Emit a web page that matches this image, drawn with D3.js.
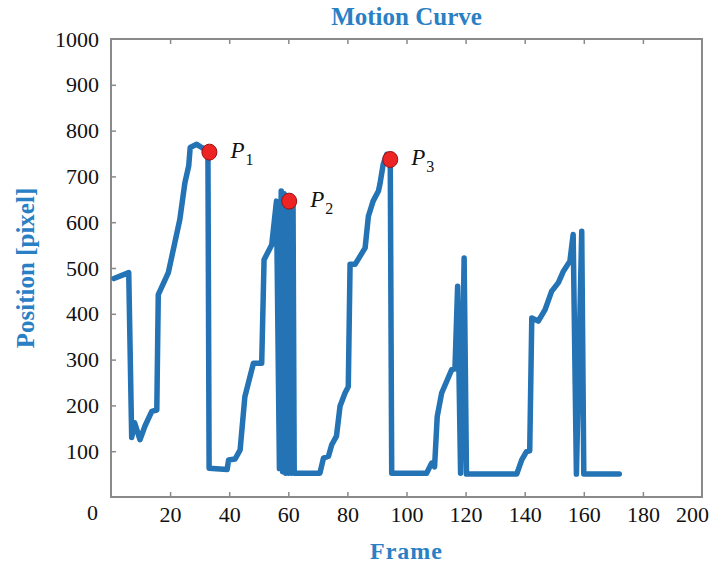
<!DOCTYPE html>
<html>
<head>
<meta charset="utf-8">
<script src="https://cdn.jsdelivr.net/npm/d3@7"></script>
<style>
  body { margin: 0; background: #fff; }
  svg text { font-family: "Liberation Serif", "Times New Roman", serif; }
</style>
</head>
<body>
<script>
// frame number and tracked position
var frames = [1, 6, 7, 8, 9.8, 11.5, 13.8, 15.5, 16, 19.4, 23.3, 25, 26.3, 26.8, 29, 30.7, 32.8, 33.2,
  39.3, 39.8, 42, 43.7, 45.3, 48.2, 51, 51.8, 54.4, 56,
  57, 57.6, 58.1, 58.6, 59.1, 59.6, 60.1, 60.6, 61.1, 61.6, 62,
  70.7, 71.9, 73.6, 74.7, 76.3, 77.5, 79.2, 80.3, 80.9, 82.6, 84.3, 86, 87.1, 88.7, 90.5, 91, 92.1, 93.3, 94.5, 95,
  106.8, 108.5, 109.5, 110.4, 111.9, 115.3, 116.4, 117.3, 118.3, 119.5, 120.3,
  137.3, 139, 140.6, 141.7, 142.4, 144.6, 146.9, 149.1, 151.4, 153.1, 155.3, 156.4, 157.5, 159.3, 160, 172];
var positions = [477, 490, 130, 162, 125, 155, 187, 190, 442, 490, 606, 686, 723, 763, 770, 763, 758, 63,
  60, 81, 83, 103, 219, 292, 292, 518, 551, 646,
  62, 668, 55, 662, 52, 655, 52, 650, 52, 645, 52,
  52, 85, 89, 114, 133, 198, 227, 241, 508, 508, 526, 544, 613, 646, 668, 683, 726, 748, 740, 52,
  52, 74, 66, 176, 227, 278, 280, 460, 52, 522, 50,
  50, 81, 99, 101, 391, 384, 409, 449, 468, 493, 515, 573, 50, 580, 50, 50];

var markerNames = ["1", "2", "3"];
var markerFrames = [33.3, 60.3, 94.5];
var markerValues = [753, 646, 737];

var xTicks = [20, 40, 60, 80, 100, 120, 140, 160, 180, 200];
var yTicks = [100, 200, 300, 400, 500, 600, 700, 800, 900, 1000];

var titleText = "Motion Curve",
    xLabel = "Frame",
    yLabel = "Position [pixel]";

(function() {
var W = 713, H = 568;
var mLeft = 111, mRight = 702, mTop = 39, mBottom = 497;

var blue = "#2373b5", labelBlue = "#2a80c4", frameGrey = "#8a8a8a";

var x = d3.scaleLinear().domain([0, 200]).range([mLeft, mRight]);
var y = d3.scaleLinear().domain([0, 1000]).range([mBottom, mTop]);

var svg = d3.select("body").append("svg")
    .attr("width", W)
    .attr("height", H);

// box
svg.append("rect")
    .attr("x", mLeft).attr("y", mTop)
    .attr("width", mRight - mLeft).attr("height", mBottom - mTop)
    .attr("fill", "none")
    .attr("stroke", frameGrey)
    .attr("stroke-width", 2);

// axes, ticks pointing inward
var xAxis = svg.append("g")
    .attr("transform", "translate(0," + mBottom + ")")
    .call(d3.axisBottom(x).tickValues(xTicks).tickSize(-5).tickPadding(12).tickFormat(d3.format("d")));
var xTop = svg.append("g")
    .attr("transform", "translate(0," + mTop + ")")
    .call(d3.axisTop(x).tickValues(xTicks.slice(0, -1)).tickSize(-5).tickFormat(""));
var yAxis = svg.append("g")
    .attr("transform", "translate(" + mLeft + ",0)")
    .call(d3.axisLeft(y).tickValues(yTicks).tickSize(-5).tickPadding(12).tickFormat(d3.format("d")));

[xAxis, xTop, yAxis].forEach(function(g) {
  g.select(".domain").remove();
  g.selectAll(".tick line").attr("stroke", frameGrey).attr("stroke-width", 1.5);
  g.selectAll(".tick text")
      .attr("fill", "#111")
      .style("font-family", "'Liberation Serif', serif")
      .style("font-size", "22px");
});
xAxis.selectAll(".tick line").filter(function(d) { return d === 200; }).remove();
yAxis.selectAll(".tick line").filter(function(d) { return d === 1000; }).remove();
xAxis.selectAll(".tick text").attr("y", 9);
xAxis.selectAll(".tick text").filter(function(d) { return d === 200; }).attr("dx", -10);

// the lone zero sits under the corner
svg.append("text")
    .attr("x", mLeft - 13)
    .attr("y", y(0) + 23)
    .attr("text-anchor", "end")
    .attr("fill", "#111")
    .style("font-size", "22px")
    .text("0");

// curve
var pts = frames.map(function(f, i) { return [f, positions[i]]; });
var line = d3.line()
    .x(function(d) { return x(d[0]); })
    .y(function(d) { return y(d[1]); });

svg.append("path")
    .datum(pts)
    .attr("d", line)
    .attr("fill", "none")
    .attr("stroke", blue)
    .attr("stroke-width", 5.5)
    .attr("stroke-linejoin", "round")
    .attr("stroke-linecap", "round");

// marked peaks
var marks = svg.selectAll(".mark")
    .data(markerNames)
  .enter().append("g")
    .attr("class", "mark");

marks.append("ellipse")
    .attr("cx", function(d, i) { return x(markerFrames[i]); })
    .attr("cy", function(d, i) { return y(markerValues[i]); })
    .attr("rx", 7.5)
    .attr("ry", 8)
    .attr("fill", "#ec2424")
    .attr("stroke", "#9a1010")
    .attr("stroke-width", 1);

var lab = marks.append("text")
    .attr("x", function(d, i) { return x(markerFrames[i]) + 21; })
    .attr("y", function(d, i) { return y(markerValues[i]) + 6; })
    .attr("fill", "#111")
    .style("font-size", "23px");
lab.append("tspan")
    .style("font-style", "italic")
    .text("P");
lab.append("tspan")
    .attr("dx", 1)
    .attr("dy", 7)
    .style("font-size", "16px")
    .text(function(d) { return d; });

// titles
svg.append("text")
    .attr("x", (mLeft + mRight) / 2)
    .attr("y", 25)
    .attr("text-anchor", "middle")
    .attr("fill", labelBlue)
    .style("font-size", "25px")
    .style("font-weight", "bold")
    .text(titleText);

svg.append("text")
    .attr("x", (mLeft + mRight) / 2)
    .attr("y", 559)
    .attr("text-anchor", "middle")
    .attr("fill", labelBlue)
    .style("font-size", "24px")
    .style("font-weight", "bold")
    .style("letter-spacing", "1px")
    .text(xLabel);

svg.append("text")
    .attr("transform", "translate(34," + ((mTop + mBottom) / 2) + ") rotate(-90)")
    .attr("text-anchor", "middle")
    .attr("fill", labelBlue)
    .style("font-size", "25px")
    .style("font-weight", "bold")
    .text(yLabel);
})();
</script>
</body>
</html>
